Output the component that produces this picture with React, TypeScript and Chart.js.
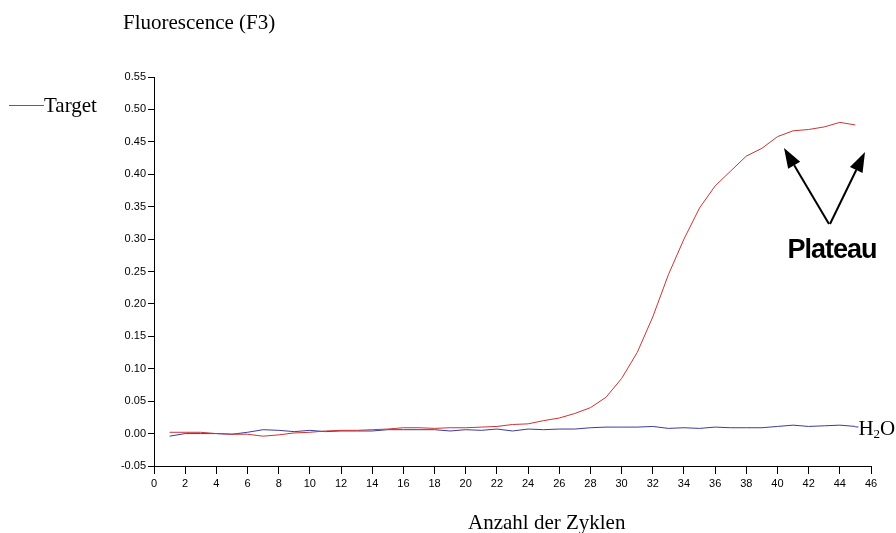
import React, { useEffect, useRef } from "react";
import { Chart, registerables } from "chart.js";

Chart.register(...registerables);

const cycles = [1,2,3,4,5,6,7,8,9,10,11,12,13,14,15,16,17,18,19,20,21,22,23,24,25,26,27,28,29,30,31,32,33,34,35,36,37,38,39,40,41,42,43,44,45];
const target = [0.002,0.002,0.002,0.000,-0.001,-0.001,-0.004,-0.002,0.001,0.002,0.004,0.005,0.005,0.006,0.007,0.009,0.009,0.008,0.009,0.009,0.010,0.011,0.014,0.015,0.020,0.024,0.031,0.040,0.056,0.085,0.125,0.180,0.245,0.300,0.348,0.382,0.405,0.428,0.440,0.458,0.467,0.469,0.473,0.480,0.476];
const h2o = [-0.004,0.000,0.000,0.000,-0.001,0.002,0.006,0.005,0.003,0.005,0.003,0.004,0.004,0.004,0.006,0.006,0.006,0.006,0.004,0.006,0.005,0.007,0.004,0.007,0.006,0.007,0.007,0.009,0.010,0.010,0.010,0.011,0.008,0.009,0.008,0.010,0.009,0.009,0.009,0.011,0.013,0.011,0.012,0.013,0.011];

const seriesNames = ["Target", "H2O"];
const yTitle = "Fluorescence (F3)";
const xTitle = "Anzahl der Zyklen";
const annotationText = "Plateau";

const RED = "#cc3333";
const BLUE = "#3b3b9c";
const SERIF = "21px 'Liberation Serif'";

const overlay = {
  id: "overlay",
  afterDraw(chart: any) {
    const ctx = chart.ctx;
    const xs = chart.scales.x;
    const ys = chart.scales.y;
    ctx.save();
    ctx.fillStyle = "#000";
    ctx.textBaseline = "middle";
    ctx.font = SERIF;
    ctx.textAlign = "left";
    ctx.fillText(yTitle, 123, 23);
    ctx.fillText(xTitle, 468, 523);

    // legend: Target
    ctx.strokeStyle = RED;
    ctx.lineWidth = 1;
    ctx.beginPath();
    ctx.moveTo(9, 105.5);
    ctx.lineTo(44, 105.5);
    ctx.stroke();
    ctx.fillText(seriesNames[0], 44, 106);

    // H2O label at end of blue line
    const lx = xs.getPixelForValue(cycles[cycles.length - 1]);
    const ly = ys.getPixelForValue(h2o[h2o.length - 1]);
    ctx.strokeStyle = BLUE;
    ctx.beginPath();
    ctx.moveTo(lx, ly + 0.5);
    ctx.lineTo(lx + 3, ly + 0.5);
    ctx.stroke();
    ctx.fillStyle = "#000";
    ctx.font = SERIF;
    ctx.fillText("H", lx + 3, ly + 3);
    const hw = ctx.measureText("H").width;
    ctx.font = "13px 'Liberation Serif'";
    ctx.fillText("2", lx + 3 + hw, ly + 8);
    const tw = ctx.measureText("2").width;
    ctx.font = SERIF;
    ctx.fillText("O", lx + 3 + hw + tw, ly + 3);

    // Plateau
    ctx.font = "bold 27px 'Liberation Sans'";
    ctx.textAlign = "center";
    try { ctx.letterSpacing = "-1px"; } catch (e) {}
    ctx.fillText(annotationText, 832, 251);
    try { ctx.letterSpacing = "0px"; } catch (e) {}

    // arrows
    const arrow = (x0: number, y0: number, x1: number, y1: number) => {
      const ang = Math.atan2(y1 - y0, x1 - x0);
      const hl = 20, hw2 = 7;
      const bx = x1 - hl * Math.cos(ang);
      const by = y1 - hl * Math.sin(ang);
      ctx.strokeStyle = "#000";
      ctx.lineWidth = 2;
      ctx.beginPath();
      ctx.moveTo(x0, y0);
      ctx.lineTo(bx, by);
      ctx.stroke();
      ctx.beginPath();
      ctx.moveTo(x1, y1);
      ctx.lineTo(bx + hw2 * Math.sin(ang), by - hw2 * Math.cos(ang));
      ctx.lineTo(bx - hw2 * Math.sin(ang), by + hw2 * Math.cos(ang));
      ctx.closePath();
      ctx.fillStyle = "#000";
      ctx.fill();
    };
    arrow(829, 224, 784, 148);
    arrow(830, 224, 865, 152);
    ctx.restore();
  },
};

export default function App() {
  const ref = useRef<HTMLCanvasElement>(null);
  useEffect(() => {
    if (!ref.current) return;
    const chart = new Chart(ref.current, {
      type: "line",
      data: {
        datasets: [
          {
            label: seriesNames[0],
            data: cycles.map((c, i) => ({ x: c, y: target[i] })),
            borderColor: RED,
            borderWidth: 1,
            pointRadius: 0,
            tension: 0,
          },
          {
            label: seriesNames[1],
            data: cycles.map((c, i) => ({ x: c, y: h2o[i] })),
            borderColor: BLUE,
            borderWidth: 1,
            pointRadius: 0,
            tension: 0,
          },
        ],
      },
      options: {
        animation: false,
        responsive: false,
        layout: { padding: { left: 0, right: 25, top: 77, bottom: 0 } },
        plugins: { legend: { display: false }, tooltip: { enabled: false } },
        scales: {
          x: {
            type: "linear",
            min: 0,
            max: 46,
            afterFit: (s: any) => { s.height = 67; },
            ticks: { stepSize: 2, color: "#000", font: { family: "'Liberation Sans'", size: 11 }, padding: 3, maxRotation: 0, autoSkip: false },
            grid: { drawOnChartArea: false, tickLength: 8, color: "#000", tickColor: "#000" },
            border: { display: true, color: "#000", width: 1 },
          },
          y: {
            type: "linear",
            min: -0.05,
            max: 0.55,
            afterFit: (s: any) => { s.width = 154; },
            ticks: { stepSize: 0.05, color: "#000", font: { family: "'Liberation Sans'", size: 11 }, padding: 2, callback: (v: any) => Number(v).toFixed(2) },
            grid: { drawOnChartArea: false, tickLength: 6, color: "#000", tickColor: "#000" },
            border: { display: true, color: "#000", width: 1 },
          },
        },
      },
      plugins: [overlay],
    });
    return () => chart.destroy();
  }, []);
  return (
    <div style={{ position: "absolute", left: 0, top: 0, width: 896, height: 533, background: "#fff" }}>
      <canvas ref={ref} width={896} height={533} />
    </div>
  );
}
